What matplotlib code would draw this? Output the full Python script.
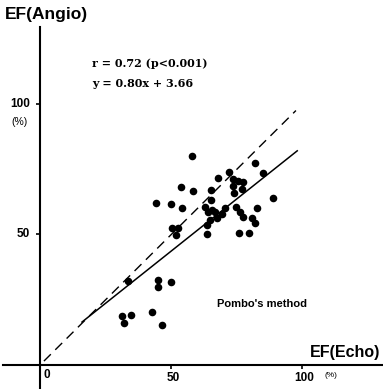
import matplotlib
matplotlib.use("Agg")
import matplotlib.pyplot as plt
import numpy as np

# --- data ---
ef_echo = [57.8, 53.7, 58.4, 44.2, 49.8, 54.0, 50.4, 52.7, 51.8, 33.4,
           44.8, 44.8, 49.8, 31.4, 34.6, 32.1, 42.6, 46.6, 81.9, 85.1,
           72.1, 67.9, 73.4, 75.5, 77.4, 73.6, 76.8, 65.0, 73.9, 88.9,
           65.0, 62.9, 65.4, 66.7, 82.8, 74.7, 70.5, 64.1, 69.2, 76.2,
           67.5, 77.4, 64.8, 80.6, 81.9, 63.5, 63.5, 75.9, 79.7]
ef_angio = [80.2, 68.3, 66.7, 62.2, 61.6, 60.0, 52.6, 52.6, 49.8, 32.2,
            32.6, 30.0, 31.7, 18.9, 19.2, 16.2, 20.4, 15.3, 77.5, 73.4,
            73.8, 71.8, 71.3, 70.6, 70.0, 68.6, 67.3, 67.0, 65.8, 64.1,
            63.2, 60.7, 59.4, 58.7, 60.0, 60.4, 60.0, 58.7, 57.9, 58.7,
            56.2, 56.6, 55.6, 56.4, 54.3, 53.6, 50.0, 50.7, 50.4]
slope = 0.80
intercept = 3.66
fit_range = [16, 98]
identity_range = [1.5, 97.5]
tick_values = [50, 100]
tick_labels = ["50", "100"]
stats_text = ["r = 0.72 (p<0.001)", "y = 0.80x + 3.66"]

sans = ['Liberation Sans', 'DejaVu Sans']

fig = plt.figure(figsize=(3.83, 3.89), dpi=100)
ax = fig.add_axes([0, 0, 1, 1])
ax.set_xlim(-15.24, 130.67)
ax.set_ylim(-9.2, 139.85)

for s in ['top', 'right']:
    ax.spines[s].set_visible(False)
ax.spines['left'].set_position(('data', 0))
ax.spines['bottom'].set_position(('data', 0))
ax.spines['left'].set_bounds(-9.2, 129.5)
ax.spines['bottom'].set_bounds(-14.1, 130.67)
for s in ['left', 'bottom']:
    ax.spines[s].set_linewidth(1.5)
ax.patch.set_alpha(0)

ax.set_xticks(tick_values)
ax.set_xticklabels([])
ax.set_yticks(tick_values)
ax.set_yticklabels([])
ax.tick_params(direction='out', length=3, width=1.2)

# tick labels as text
for v, lab in zip(tick_values, tick_labels):
    ax.text(v + 0.6, -4.9, lab, ha='center', va='center', fontsize=8.5,
            fontweight='bold', family=sans)
    ax.text(-3.9, v, lab, ha='right', va='center', fontsize=8.5,
            fontweight='bold', family=sans)
ax.text(2.7, -3.9, "0", ha='center', va='center', fontsize=8.5,
        fontweight='bold', family=sans)
ax.text(111, -3.9, "(%)", ha='center', va='center', fontsize=6,
        family=sans)
ax.text(-8.0, 93.1, "(%)", ha='center', va='center', fontsize=7.5,
        family=sans)

# identity line (dashed)
ax.plot(identity_range, identity_range, color='black', lw=1.0,
        dashes=(7, 4.5))
# regression line
fx = np.array(fit_range)
ax.plot(fx, slope * fx + intercept, color='black', lw=1.1)

ax.scatter(ef_echo, ef_angio, s=30, color='black', zorder=3, linewidths=0)

# labels
ax.text(-13.3, 134.3, "EF(Angio)", ha='left', va='center', fontsize=12.5,
        fontweight='bold', family=sans)
ax.text(129.5, 4.6, "EF(Echo)", ha='right', va='center', fontsize=11.5,
        fontweight='bold', family=sans)
ax.text(84.5, 23.5, "Pombo's method", ha='center', va='center', fontsize=8,
        fontweight='bold', family=sans)
ax.text(19.8, 115.7, stats_text[0], ha='left', va='center', fontsize=8,
        fontweight='bold', family='DejaVu Serif')
ax.text(19.8, 107.7, stats_text[1], ha='left', va='center', fontsize=8,
        fontweight='bold', family='DejaVu Serif')

fig.savefig("out.png", dpi=100)
